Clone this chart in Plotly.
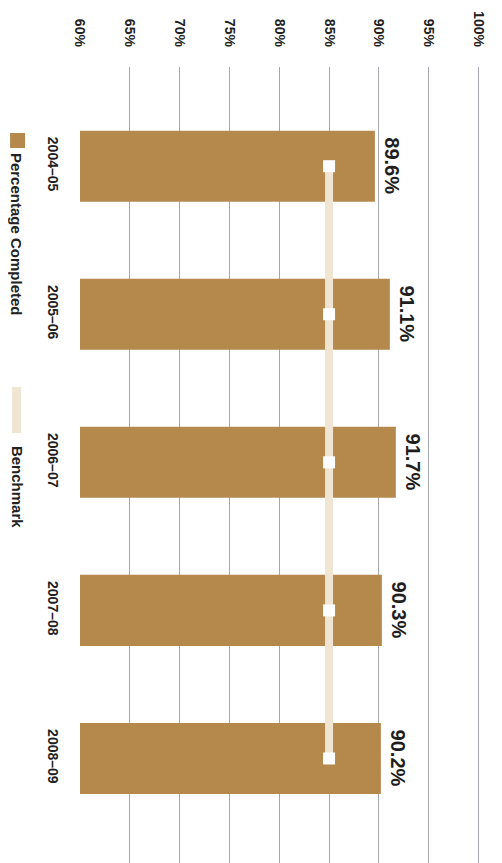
import plotly.graph_objects as go

years = ["2004–05", "2005–06", "2006–07", "2007–08", "2008–09"]
completed = [89.6, 91.1, 91.7, 90.3, 90.2]
benchmark = [85, 85, 85, 85, 85]
tick_vals = [60, 65, 70, 75, 80, 85, 90, 95, 100]
tick_text = ["60%", "65%", "70%", "75%", "80%", "85%", "90%", "95%", "100%"]

BAR = "#b5884c"
BENCH = "#f0e5d2"
FONT = "Liberation Sans"

OFF = 8  # page body margin
W, H = 502, 863
XMAX = 100.25
ML, MT, MB = 80 - OFF, 67 - OFF, 0
pw = 399 * (XMAX - 60) / 40
MR = W - ML - pw
ph = H - MT - MB

def px(p):
    return (p - OFF - ML) / pw

def py(p):
    return (H - MB - (p - OFF)) / ph

fig = go.Figure()
fig.add_trace(go.Bar(
    x=completed, y=years, orientation="h", width=0.48,
    marker=dict(color=BAR, line=dict(width=0)),
    name="Percentage Completed", showlegend=False,
))
fig.add_trace(go.Scatter(
    x=benchmark, y=years, mode="lines+markers",
    line=dict(color=BENCH, width=8),
    marker=dict(symbol="square", size=12, color="white", line=dict(width=0)),
    name="Benchmark", showlegend=False,
))

annotations = []
for yr, v in zip(years, completed):
    annotations.append(dict(
        x=v, y=yr, xref="x", yref="y", text=f"{v:.1f}%", showarrow=False,
        textangle=90, xanchor="left", yanchor="middle", xshift=4,
        font=dict(family=FONT, size=20, color="#1e1e1e", weight="bold"),
    ))

# legend (rotated, as in the reference)
annotations.append(dict(
    x=px(17), y=py(234), xref="paper", yref="paper", text="Percentage Completed",
    showarrow=False, textangle=90, xanchor="center", yanchor="middle",
    font=dict(family=FONT, size=15, color="#222", weight="bold"),
))
annotations.append(dict(
    x=px(17), y=py(487), xref="paper", yref="paper", text="Benchmark",
    showarrow=False, textangle=90, xanchor="center", yanchor="middle",
    font=dict(family=FONT, size=15, color="#222", weight="bold"),
))
shapes = [
    dict(type="rect", xref="paper", yref="paper", x0=px(10), x1=px(25),
         y0=py(148), y1=py(133), fillcolor=BAR, line=dict(width=0)),
    dict(type="rect", xref="paper", yref="paper", x0=px(12), x1=px(21),
         y0=py(433), y1=py(387), fillcolor=BENCH, line=dict(width=0)),
]

fig.update_layout(
    width=W, height=H,
    margin=dict(l=ML, r=MR, t=MT, b=MB, autoexpand=False),
    paper_bgcolor="white", plot_bgcolor="white",
    showlegend=False,
    font=dict(family=FONT, color="#222"),
    xaxis=dict(
        range=[60, XMAX], side="top", tickvals=tick_vals, ticktext=tick_text,
        tickangle=90, showgrid=True, gridcolor="#a4a6b0", gridwidth=1,
        zeroline=False, showline=False, ticks="", ticklabelstandoff=17,
        tickfont=dict(family=FONT, size=14, color="#222", weight="bold"),
    ),
    yaxis=dict(
        type="category", range=[4.76, -0.67], tickangle=90,
        showgrid=False, zeroline=False, showline=False, ticks="",
        ticklabelstandoff=17,
        tickfont=dict(family=FONT, size=14, color="#222", weight="bold"),
    ),
    annotations=annotations, shapes=shapes,
)

fig.write_html("out.html")
